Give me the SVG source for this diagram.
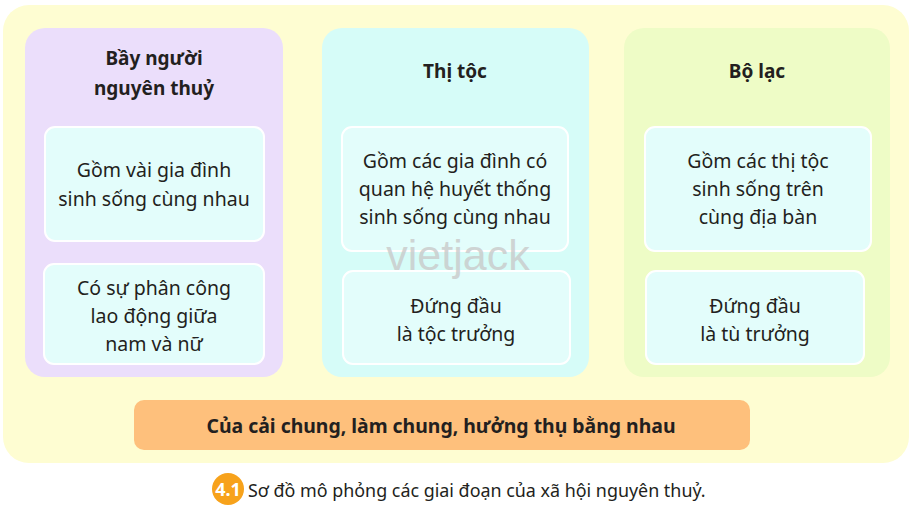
<svg xmlns="http://www.w3.org/2000/svg" width="915" height="517" viewBox="0 0 915 517">
<style>
.t{font-family:"Noto Sans","Open Sans",sans-serif;font-size:19.5px;fill:#231f20;text-anchor:middle}
.h{font-family:"Noto Sans","Open Sans",sans-serif;font-size:19px;font-weight:bold;fill:#231f20;text-anchor:middle}
.box{fill:#e3fdfb;stroke:#ffffff;stroke-width:2}
</style>
<rect width="915" height="517" fill="#ffffff"/>
<g id="background">
<rect x="3" y="5" width="906" height="458" rx="26" fill="#fefdd2"/>
</g>
<g id="bay-nguoi">
<rect x="25" y="28" width="258" height="349" rx="20" fill="#ebdefb"/>
<text class="h" x="154" y="65">Bầy người</text>
<text class="h" x="154" y="95">nguyên thuỷ</text>
<g id="bay-1">
<rect class="box" x="45" y="127" width="219" height="114" rx="10"/>
<text class="t" x="154" y="177">Gồm vài gia đình</text>
<text class="t" x="154" y="206">sinh sống cùng nhau</text>
</g>
<g id="bay-2">
<rect class="box" x="44" y="264" width="220" height="100" rx="10"/>
<text class="t" x="154" y="295">Có sự phân công</text>
<text class="t" x="154" y="323">lao động giữa</text>
<text class="t" x="154" y="351">nam và nữ</text>
</g>
</g>
<g id="thi-toc">
<rect x="322" y="28" width="267" height="349" rx="20" fill="#d6fcf8"/>
<text class="h" x="455" y="78">Thị tộc</text>
<g id="thi-1">
<rect class="box" x="342" y="127" width="226" height="124" rx="10" fill="#e8fefc"/>
<text class="t" x="455" y="168">Gồm các gia đình có</text>
<text class="t" x="455" y="196">quan hệ huyết thống</text>
<text class="t" x="455" y="224">sinh sống cùng nhau</text>
</g>
<g id="thi-2">
<rect class="box" x="343" y="271" width="227" height="93" rx="10"/>
<text class="t" x="456" y="313">Đứng đầu</text>
<text class="t" x="456" y="341">là tộc trưởng</text>
</g>
</g>
<g id="bo-lac">
<rect x="624" y="28" width="266" height="349" rx="20" fill="#eefcc6"/>
<text class="h" x="757" y="78">Bộ lạc</text>
<g id="bo-1">
<rect class="box" x="645" y="127" width="226" height="124" rx="10"/>
<text class="t" x="758" y="168">Gồm các thị tộc</text>
<text class="t" x="758" y="196">sinh sống trên</text>
<text class="t" x="758" y="224">cùng địa bàn</text>
</g>
<g id="bo-2">
<rect class="box" x="646" y="271" width="218" height="93" rx="10"/>
<text class="t" x="755" y="313">Đứng đầu</text>
<text class="t" x="755" y="341">là tù trưởng</text>
</g>
</g>
<g id="chung">
<rect x="134" y="400" width="616" height="50" rx="10" fill="#fec07c"/>
<text class="h" x="441" y="433" style="font-size:19.4px">Của cải chung, làm chung, hưởng thụ bằng nhau</text>
</g>
<g id="connectors"></g>
<text x="458" y="270" font-family="Liberation Sans, Arial, sans-serif" font-size="43" fill="#c9c9c9" fill-opacity="0.8" text-anchor="middle">vietjack</text>
<g id="caption">
<circle cx="228" cy="489" r="16" fill="#f7a21b"/>
<text x="228" y="496" font-family="Noto Sans, Open Sans, sans-serif" font-size="18" font-weight="bold" fill="#ffffff" text-anchor="middle">4.1</text>
<text x="248" y="497" font-family="Noto Sans, Open Sans, sans-serif" font-size="17.9" fill="#231f20">Sơ đồ mô phỏng các giai đoạn của xã hội nguyên thuỷ.</text>
</g>
</svg>
